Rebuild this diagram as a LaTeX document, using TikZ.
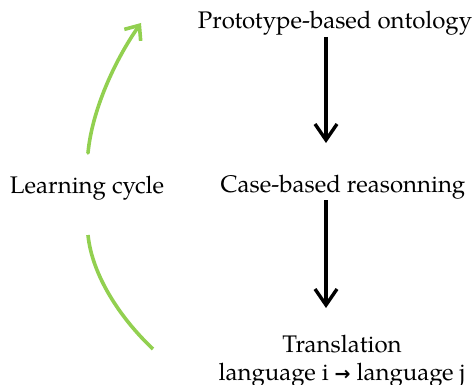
\documentclass[tikz,border=0pt]{standalone}
\usepackage{fontspec}
\setmainfont{TeX Gyre Pagella}
\newfontfamily\symfont{DejaVu Sans}
\usetikzlibrary{arrows.meta}
\definecolor{cyclegreen}{RGB}{146,208,80}
\begin{document}
\begin{tikzpicture}[x=1pt,y=-1pt,
  lbl/.style={anchor=base,inner sep=0pt,font=\fontsize{24}{28}\selectfont},
  flow/.style={line width=3.4pt,-{Straight Barb[length=16pt,width=22pt,line width=3.4pt]}},
  cyc/.style={line width=3.6pt,draw=cyclegreen,line cap=round}]
\useasboundingbox (0,0) rectangle (476,385);
\node[lbl] (p) at (335,29) {Prototype-based ontology};
\node[lbl] (c) at (343,192) {Case-based reasonning};
\node[lbl] (t) at (342,352) {Translation};
\node[lbl] (l) at (342,380) {language i {\symfont\bfseries\fontsize{19}{22}\selectfont →} language j};
\node[lbl] (lc) at (87,193) {Learning cycle};
\coordinate (a1s) at (326,37);
\coordinate (a1e) at (326,143);
\coordinate (a2s) at (326,200);
\coordinate (a2e) at (326,308);
\draw[flow] (a1s) -- (a1e);
\draw[flow] (a2s) -- (a2e);
\coordinate (g1s) at (88,153);
\coordinate (g1e) at (141,23);
\coordinate (g2s) at (88,235);
\coordinate (g2e) at (153,349);
\draw[cyc,-{Straight Barb[length=12pt,width=20pt,line width=3.6pt]}] (g1s) .. controls (92,110) and (115,60) .. (g1e);
\draw[cyc,line cap=butt] (g2s) .. controls (92,275) and (120,318) .. (g2e);
\end{tikzpicture}
\end{document}
